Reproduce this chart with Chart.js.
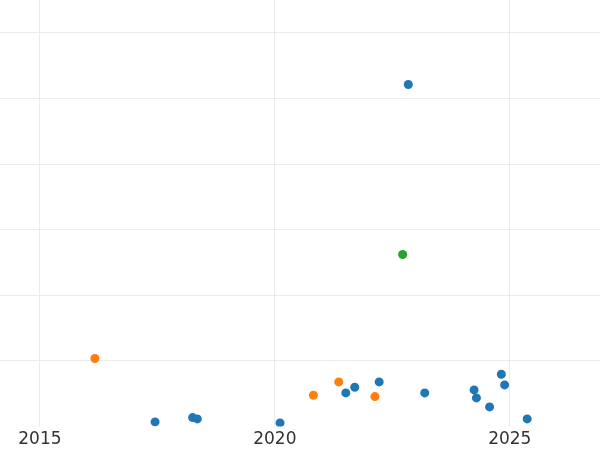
<!DOCTYPE html>
<html>
<head>
<meta charset="utf-8">
<script src="https://cdn.jsdelivr.net/npm/chart.js@4"></script>
<style>
    html, body { margin: 0; padding: 0; background: #fff; overflow: hidden; }
    #wrap { width: 600px; height: 453px; }
</style>
</head>
<body>
<div id="wrap"><canvas id="scatter"></canvas></div>
<script>
// values
const blueX = [2017.45, 2018.25, 2018.35, 2020.11, 2021.51, 2021.70, 2022.22, 2022.84, 2023.19, 2024.24, 2024.29, 2024.57, 2024.82, 2024.89, 2025.37];
const blueY = [0.71, 1.37, 1.17, 0.56, 5.13, 5.99, 6.81, 52.13, 5.13, 5.59, 4.37, 3.0, 7.98, 6.35, 1.17];
const orangeX = [2016.17, 2020.82, 2021.36, 2022.13];
const orangeY = [10.37, 4.77, 6.81, 4.57];
const greenX = [2022.72];
const greenY = [26.22];

function toPoints(xs, ys) {
    let pts = [];
    xs.forEach((x, i) => {
        pts.push({ x: x, y: ys[i] });
    });
    return pts;
}

let ctx = document.getElementById('scatter').getContext('2d');
const data = {
    datasets: [
        { data: toPoints(blueX, blueY), backgroundColor: '#1f77b4', borderWidth: 0, pointRadius: 4.5 },
        { data: toPoints(orangeX, orangeY), backgroundColor: '#ff7f0e', borderWidth: 0, pointRadius: 4.5 },
        { data: toPoints(greenX, greenY), backgroundColor: '#2ca02c', borderWidth: 0, pointRadius: 4.5 }
    ]
};

const config = {
    type: 'scatter',
    data: data,
    options: {
        responsive: true,
        maintainAspectRatio: false,
        animation: false,
        layout: { padding: 0, autoPadding: false },
        plugins: {
            legend: { display: false },
            tooltip: { enabled: false }
        },
        scales: {
            x: {
                type: 'linear',
                min: 2014.15,
                max: 2026.92,
                border: { display: false },
                grid: { color: '#ebebeb', drawTicks: false },
                ticks: {
                    stepSize: 5,
                    includeBounds: false,
                    padding: 3,
                    color: '#333333',
                    font: { family: 'DejaVu Sans', size: 17 },
                    callback: v => String(v)
                }
            },
            y: {
                min: 0,
                max: 65,
                display: true,
                border: { display: false },
                grid: {
                    drawTicks: false,
                    color: c => (c.tick && c.tick.value % 10 === 0 && c.tick.value > 0) ? '#ebebeb' : 'rgba(0,0,0,0)'
                },
                ticks: { display: false, stepSize: 10 }
            }
        }
    }
};

const chart = new Chart(ctx, config);
</script>
</body>
</html>
